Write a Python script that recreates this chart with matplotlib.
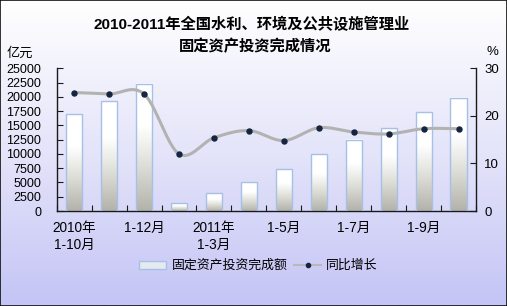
import numpy as np
import matplotlib
matplotlib.use("Agg")
import matplotlib.pyplot as plt
from matplotlib.colors import LinearSegmentedColormap
from matplotlib.patches import Rectangle
from matplotlib.lines import Line2D

plt.rcParams['font.family'] = ['Liberation Sans', 'Noto Sans CJK SC']

# ------------------------------
# Data
# ------------------------------
periods = ['2010年\n1-10月', '1-11月', '1-12月', '2011年\n1-2月', '2011年\n1-3月', '1-4月',
           '1-5月', '1-6月', '1-7月', '1-8月', '1-9月', '1-10月']
invest = [16950, 19200, 22250, 1350, 3100, 5030, 7300, 9930, 12440, 14490, 17340, 19800]  # 亿元
growth = [24.9, 24.6, 24.6, 12.0, 15.4, 16.9, 14.8, 17.5, 16.6, 16.2, 17.3, 17.3]        # %

left_ticks = np.arange(0, 25001, 2500)
right_ticks = [0, 10, 20, 30]


def catmull_rom(xs, ys, steps=30):
    # smooth curve through the points, like an office chart "smoothed line"
    xs = np.asarray(xs, float)
    ys = np.asarray(ys, float)
    px = np.concatenate([[2 * xs[0] - xs[1]], xs, [2 * xs[-1] - xs[-2]]])
    py = np.concatenate([[ys[0]], ys, [ys[-1]]])
    out_x, out_y = [], []
    t = np.linspace(0, 1, steps)
    for i in range(1, len(px) - 2):
        for p, out in ((px, out_x), (py, out_y)):
            p0, p1, p2, p3 = p[i - 1], p[i], p[i + 1], p[i + 2]
            m1 = (p2 - p0) / 2
            m2 = (p3 - p1) / 2
            h00 = 2 * t**3 - 3 * t**2 + 1
            h10 = t**3 - 2 * t**2 + t
            h01 = -2 * t**3 + 3 * t**2
            h11 = t**3 - t**2
            out.extend(h00 * p1 + h10 * m1 + h01 * p2 + h11 * m2)
    return np.array(out_x), np.array(out_y)


# ------------------------------
# Figure + gradient background
# ------------------------------
fig = plt.figure(figsize=(5.07, 3.06), dpi=100)

bg = fig.add_axes([0, 0, 1, 1], zorder=-10)
bg_cmap = LinearSegmentedColormap.from_list('bg', ['#ffffff', '#e4e4fa', '#c4c4f6'])
bg.imshow(np.linspace(0, 1, 256).reshape(-1, 1), cmap=bg_cmap, aspect='auto',
          extent=[0, 1, 0, 1], origin='upper')
bg.set_xticks([])
bg.set_yticks([])
for s in bg.spines.values():
    s.set_color('#101010')
    s.set_linewidth(1.2)

ax1 = fig.add_axes([56.7 / 507, 1 - 211 / 306, (476 - 56.7) / 507, (211 - 68.3) / 306])
ax2 = ax1.twinx()
ax1.patch.set_visible(False)
ax2.patch.set_visible(False)

x = np.arange(len(periods))

# bars: white at top fading to grey at the bottom
bar_cmap = LinearSegmentedColormap.from_list('bar', ['#b2b2aa', '#dcdcd6', '#ffffff', '#ffffff'])
grad = np.linspace(1, 0, 256).reshape(-1, 1)
bars = ax1.bar(x, invest, width=0.46, facecolor='none', edgecolor='#a6c0e6', linewidth=1, zorder=3)
for b in bars:
    x0, w, h = b.get_x(), b.get_width(), b.get_height()
    ax1.imshow(grad, extent=[x0, x0 + w, 0, h], cmap=bar_cmap, aspect='auto',
               origin='upper', zorder=2, vmin=0, vmax=1)

ax1.set_xlim(-0.5, len(periods) - 0.5)
ax1.set_ylim(0, 25000)
ax1.set_yticks(left_ticks)
ax1.set_yticklabels([str(v) for v in left_ticks])

# x axis: tick marks between categories, labels on every other period
ax1.set_xticks(np.arange(-0.5, len(periods), 1.0))
ax1.set_xticklabels([])
ax1.set_xticks(x[::2], minor=True)
ax1.set_xticklabels(periods[::2], minor=True, fontsize=9.8, linespacing=1.25)
ax1.tick_params(axis='x', which='major', direction='in', length=4, color='#1a1a1a')
ax1.tick_params(axis='x', which='minor', length=0, pad=7)
ax1.tick_params(axis='y', direction='in', length=4, labelsize=9, pad=11, color='#1a1a1a')

# growth rate line
sx, sy = catmull_rom(x, growth)
ax2.plot(sx, sy, color='#b2b2b2', lw=2.2, solid_capstyle='round', zorder=4)
ax2.plot(x, growth, 'o', ms=3.6, color='#152440', zorder=5)
ax2.set_ylim(0, 30)
ax2.set_yticks(right_ticks)
ax2.tick_params(axis='y', direction='in', length=4, labelsize=9.5, pad=6, color='#1a1a1a')

for ax in (ax1, ax2):
    ax.spines['top'].set_visible(False)
ax1.spines['right'].set_visible(False)
ax2.spines['left'].set_visible(False)
ax2.spines['bottom'].set_visible(False)
for s in (ax1.spines['left'], ax1.spines['bottom'], ax2.spines['right']):
    s.set_color('#1a1a1a')
    s.set_linewidth(1)

# units
fig.text(7 / 507, 1 - 54 / 306, '亿元', fontsize=9.5, va='center', ha='left')
fig.text(492 / 507, 1 - 52 / 306, '%', fontsize=9.5, va='center', ha='center')

# title
fig.text(0.497, 1 - 25 / 306, '2010-2011年全国水利、环境及公共设施管理业', fontsize=11,
         fontweight='bold', ha='center', va='center')
fig.text(0.503, 1 - 46 / 306, '固定资产投资完成情况', fontsize=11,
         fontweight='bold', ha='center', va='center')

# legend
handles = [Rectangle((0, 0), 1, 1, facecolor='#e4eaf0', edgecolor='#a6c0e6', lw=1),
           Line2D([], [], color='#b8b8b8', lw=1.5, marker='o', ms=3,
                  markerfacecolor='#152440', markeredgecolor='#152440')]
fig.legend(handles, ['固定资产投资完成额', '同比增长'], loc='center',
           bbox_to_anchor=(0.51, 1 - 266 / 306), ncol=2, frameon=False, fontsize=9.3,
           handlelength=2.1, handleheight=0.6, columnspacing=0.5, handletextpad=0.4)

fig.savefig('out.png', dpi=100)
